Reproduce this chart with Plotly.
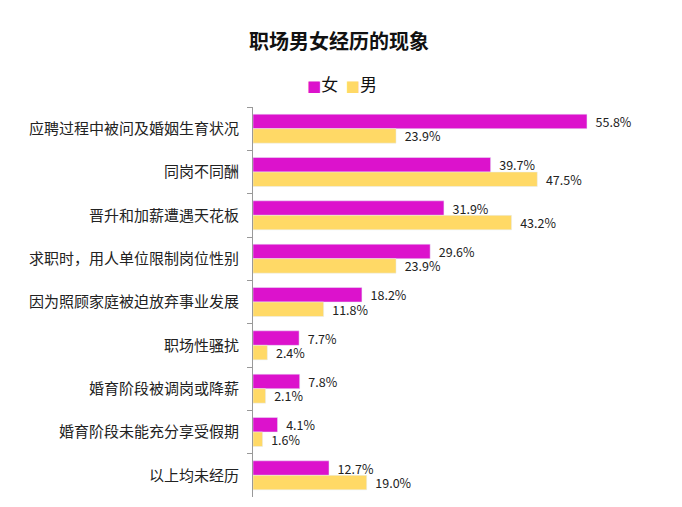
import plotly.graph_objects as go

categories = [
    "应聘过程中被问及婚姻生育状况",
    "同岗不同酬",
    "晋升和加薪遭遇天花板",
    "求职时，用人单位限制岗位性别",
    "因为照顾家庭被迫放弃事业发展",
    "职场性骚扰",
    "婚育阶段被调岗或降薪",
    "婚育阶段未能充分享受假期",
    "以上均未经历",
]
female = [55.8, 39.7, 31.9, 29.6, 18.2, 7.7, 7.8, 4.1, 12.7]
male = [23.9, 47.5, 43.2, 23.9, 11.8, 2.4, 2.1, 1.6, 19.0]

font = "Noto Sans CJK SC"
c_female = "#DC12CC"
c_male = "#FFD966"

# page body has an 8px margin, so the figure is 8px smaller than the window
W, H = 674, 499
mt, mb, ml, mr = 99, 10, 245, 22
plot_h = H - mt - mb
plot_w = W - ml - mr

fig = go.Figure()
fig.add_trace(go.Bar(
    y=categories, x=female, name="女", orientation="h",
    marker_color=c_female,
    text=[f"  {v:.1f}%" for v in female], textposition="outside",
    constraintext="none", textfont=dict(size=12.5, color="#222222"),
    cliponaxis=False, showlegend=False,
))
fig.add_trace(go.Bar(
    y=categories, x=male, name="男", orientation="h",
    marker_color=c_male,
    text=[f"  {v:.1f}%" for v in male], textposition="outside",
    constraintext="none", textfont=dict(size=12.5, color="#222222"),
    cliponaxis=False, showlegend=False,
))

# legend drawn as text so the swatches sit close to their labels
sq = "<span style='color:{};font-family:DejaVu Sans;font-size:15px'>■</span>"
fig.add_annotation(
    text=sq.format(c_female) + "女&nbsp;&nbsp;" + sq.format(c_male) + "男",
    x=(333.5 - ml) / plot_w, xref="paper", xanchor="center",
    y=1 + (mt - 75) / plot_h, yref="paper", yanchor="middle", showarrow=False,
    font=dict(size=17, color="#111111"),
)

fig.update_layout(
    width=W, height=H,
    margin=dict(l=ml, r=mr, t=mt, b=mb, autoexpand=False),
    paper_bgcolor="white", plot_bgcolor="white",
    font=dict(family=font, color="#222222"),
    barmode="group", bargap=0.33, bargroupgap=0,
    title=dict(text="<b>职场男女经历的现象</b>", x=331 / W, xref="container",
               xanchor="center", y=1 - 34 / H, yref="container",
               yanchor="middle", font=dict(size=20, color="#111111")),
    showlegend=False,
)
fig.update_xaxes(range=[0, 68], visible=False, automargin=False)
fig.update_yaxes(
    autorange="reversed", showline=True, linecolor="#999999", linewidth=1,
    ticks="outside", tickson="boundaries", ticklen=5, tickcolor="#999999",
    tickfont=dict(size=15, color="#222222"), ticksuffix="   ", automargin=False,
)

fig.write_html("out.html")
